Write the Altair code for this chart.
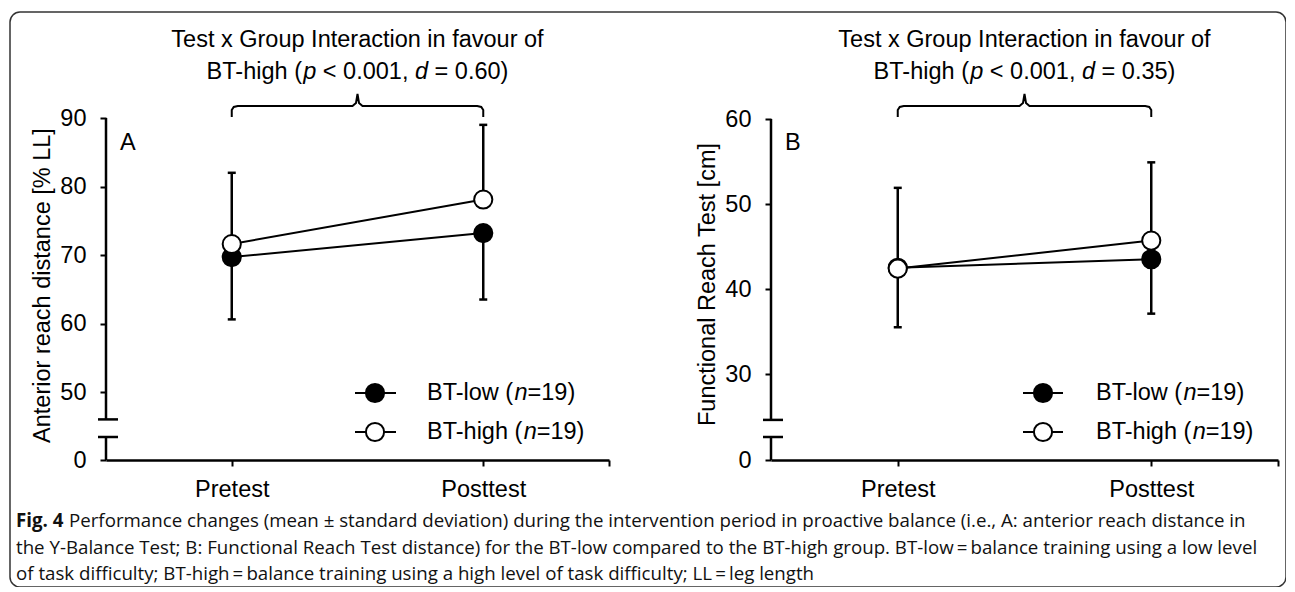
import altair as alt
import pandas as pd

# ---------------- data ----------------
tests = ["Pretest", "Posttest"]
groups = ["BT-low", "BT-high"]
group_n = ["19", "19"]

# Panel A: anterior reach distance [% LL]
a_low_mean = [69.7, 73.2]
a_low_sd = [9.1, 9.7]
a_high_mean = [71.6, 78.1]
a_high_sd = [10.4, 10.9]
a_ticks = [0, 50, 60, 70, 80, 90]
a_title = "Anterior reach distance [% LL]"
a_d = "0.60"

# Panel B: Functional Reach Test [cm]
b_low_mean = [42.5, 43.5]
b_low_sd = [7.0, 6.4]
b_high_mean = [42.4, 45.7]
b_high_sd = [9.5, 9.2]
b_ticks = [0, 30, 40, 50, 60]
b_title = "Functional Reach Test [cm]"
b_d = "0.35"

interaction_line1 = "Test x Group Interaction in favour of"
p_value_text = "< 0.001"

caption_bold = "Fig. 4"
caption_line1 = ("Performance changes (mean \u00b1 standard deviation) during the intervention period "
                 "in proactive balance (i.e., A: anterior reach distance in")
caption_line2 = ("the Y-Balance Test; B: Functional Reach Test distance) for the BT-low compared to the "
                 "BT-high group. BT-low\u2009=\u2009balance training using a low level")
caption_line3 = ("of task difficulty; BT-high\u2009=\u2009balance training using a high level of task difficulty; "
                 "LL\u2009=\u2009leg length")

# ---------------- layout / style ----------------
W, H = 1276, 575
FONT = "Liberation Sans"
FS = 23.5
CAP_FONT = "Open Sans"
CAP_FS = 18.7
X_AXIS_Y = 448      # view y of the x axis (value 0)
LOW_BREAK_Y = 425   # view y of the lower break mark

ARIAL = {' ': 278, '(': 333, ')': 333, '-': 333, '.': 278, ',': 278, '<': 584, '=': 584,
         'B': 667, 'T': 611, 'h': 556, 'i': 222, 'g': 556, 'p': 556, 'd': 556, 'l': 222,
         'o': 556, 'w': 722, 'n': 556}


def tw(s, fs=FS):
    return sum(ARIAL.get(c, 556) for c in s) / 1000.0 * fs


def layout_pieces(pieces, fs=FS):
    out, cum = [], 0.0
    for text, ital in pieces:
        lead = len(text) - len(text.lstrip(' '))
        out.append((text.strip(' '), ital, cum + tw(' ' * lead, fs)))
        cum += tw(text, fs)
    return out, cum


panels = [
    dict(letter="A", low=a_low_mean, low_sd=a_low_sd, high=a_high_mean, high_sd=a_high_sd,
         ticks=a_ticks, title=a_title, d=a_d, x0=96, x1=599, ytop=106, ppu=6.85, top=90,
         brk_hi=46, brk_lo=10, title_y=273, letter_x=110, leg_line=(345, 386), leg_mark=365,
         leg_text=417),
    dict(letter="B", low=b_low_mean, low_sd=b_low_sd, high=b_high_mean, high_sd=b_high_sd,
         ticks=b_ticks, title=b_title, d=b_d, x0=761, x1=1268, ytop=107, ppu=8.5, top=60,
         brk_hi=24.6, brk_lo=10, title_y=272, letter_x=775, leg_line=(1013, 1053), leg_mark=1033,
         leg_text=1086),
]

fill_scale = alt.Scale(domain=groups, range=["black", "white"])
label_expr = " : ".join(f"datum.value == {i + 1} ? '{t}'" for i, t in enumerate(tests)) + " : ''"


def panel_layer(p):
    x0, x1 = p["x0"], p["x1"]
    pxu = (x1 - x0) / 2.0
    top, ytop, ppu = p["top"], p["ytop"], p["ppu"]

    def yv(view_y):  # view pixel -> data value in upper segment (extrapolated)
        return top + (ytop - view_y) / ppu

    def xv(dpx, base=0.5):
        return base + dpx / pxu

    ys = alt.Scale(domain=[0, p["brk_lo"], p["brk_hi"], top],
                   range=[X_AXIS_Y, LOW_BREAK_Y, ytop + (top - p["brk_hi"]) * ppu, ytop],
                   nice=False, zero=False)
    xs = alt.Scale(domain=[0.5, 2.5], range=[x0, x1], nice=False, zero=False)
    x_axis = alt.Axis(orient="bottom", offset=-(H - X_AXIS_Y), values=[1, 2, 2.5],
                      labelExpr=label_expr, title=None, grid=False, domainColor="black",
                      domainWidth=2.5, tickColor="black", tickWidth=2, tickSize=6,
                      labelFont=FONT, labelFontSize=FS, labelColor="black", labelPadding=11,
                      labelFlush=False, labelOverlap=False)
    y_axis = alt.Axis(orient="left", offset=-x0, values=p["ticks"], domain=False,
                      title=p["title"], titleX=-64, titleY=p["title_y"], titleAngle=270,
                      titleAlign="center", titleBaseline="middle", titleFont=FONT,
                      titleFontSize=FS, titleFontWeight="normal", titleColor="black",
                      grid=False, tickColor="black", tickWidth=2, tickSize=6, labelFont=FONT,
                      labelFontSize=FS, labelColor="black", labelPadding=14, labelFlush=False,
                      labelOverlap=False)

    def X(f):
        return alt.X(f, scale=xs, axis=x_axis)

    def Y(f):
        return alt.Y(f, scale=ys, axis=y_axis)

    rows = []
    for gi, (g, means, sds) in enumerate([(groups[0], p["low"], p["low_sd"]),
                                          (groups[1], p["high"], p["high_sd"])]):
        for ti, t in enumerate(tests):
            m, s = means[ti], sds[ti]
            if gi == 0:
                lo, hi, cap = m - s, m, m - s
            else:
                lo, hi, cap = m, m + s, m + s
            rows.append(dict(x=ti + 1, test=t, group=g, mean=m, lo=lo, hi=hi, cap=cap, z=gi))
    df = pd.DataFrame(rows)

    df_ax = pd.DataFrame({"x": [0.5, 0.5], "y": [p["brk_hi"], 0], "y2": [top, p["brk_lo"]]})
    df_br = pd.DataFrame({"x": [xv(-8), xv(-8)], "x2": [xv(12), xv(12)],
                          "y": [p["brk_hi"], p["brk_lo"]]})

    bx = [1, 1, xv(2, 1), xv(6, 1), xv(-5, 1.5), xv(-1.5, 1.5), 1.5, xv(1.5, 1.5), xv(5, 1.5),
          xv(-6, 2), xv(-2, 2), 2, 2]
    by = [yv(105), yv(98), yv(95), yv(94), yv(94), yv(91), yv(82), yv(91), yv(94), yv(94),
          yv(95), yv(98), yv(105)]
    df_bk = pd.DataFrame({"x": bx, "y": by, "i": list(range(len(bx)))})

    df_letter = pd.DataFrame({"x": [xv(p["letter_x"] - x0)], "y": [yv(131)], "t": [p["letter"]]})
    df_t1 = pd.DataFrame({"x": [1.5], "y": [yv(35)], "t": [interaction_line1]})
    pieces, total = layout_pieces([("BT-high (", False), ("p", True),
                                   (" " + p_value_text + ", ", False), ("d", True),
                                   (" = " + p["d"] + ")", False)])
    df_t2 = pd.DataFrame([dict(x=xv(off - total / 2.0, 1.5), y=yv(67), t=txt, ital=it)
                          for txt, it, off in pieces])

    base = alt.Chart(df)
    layers = [
        alt.Chart(df_ax).mark_rule(color="black", strokeWidth=2.5).encode(
            x=X("x:Q"), y=Y("y:Q"), y2="y2:Q"),
        alt.Chart(df_br).mark_rule(color="black", strokeWidth=2.5).encode(
            x=X("x:Q"), x2="x2:Q", y=Y("y:Q")),
        base.mark_rule(color="black", strokeWidth=2.5).encode(x=X("x:Q"), y=Y("lo:Q"), y2="hi:Q"),
        base.mark_tick(orient="horizontal", size=8, thickness=2.5, color="black",
                       opacity=1).encode(x=X("x:Q"), y=Y("cap:Q")),
        base.mark_line(color="black", strokeWidth=2).encode(x=X("x:Q"), y=Y("mean:Q"),
                                                            detail="group:N"),
        base.mark_circle(size=330, stroke="black", strokeWidth=2, opacity=1).encode(
            x=X("x:Q"), y=Y("mean:Q"),
            fill=alt.Fill("group:N", scale=fill_scale, legend=None),
            order=alt.Order("z:Q")),
        alt.Chart(df_bk).mark_line(color="black", strokeWidth=2).encode(
            x=X("x:Q"), y=Y("y:Q"), order="i:Q"),
        alt.Chart(df_letter).mark_text(align="left", baseline="middle", font=FONT, fontSize=FS,
                                       color="black").encode(x=X("x:Q"), y=Y("y:Q"), text="t:N"),
        alt.Chart(df_t1).mark_text(align="center", baseline="alphabetic", font=FONT, fontSize=FS,
                                   color="black").encode(x=X("x:Q"), y=Y("y:Q"), text="t:N"),
        alt.Chart(df_t2[~df_t2.ital]).mark_text(align="left", baseline="alphabetic", font=FONT,
                                                fontSize=FS, color="black").encode(
            x=X("x:Q"), y=Y("y:Q"), text="t:N"),
        alt.Chart(df_t2[df_t2.ital]).mark_text(align="left", baseline="alphabetic", font=FONT,
                                               fontSize=FS, fontStyle="italic",
                                               color="black").encode(
            x=X("x:Q"), y=Y("y:Q"), text="t:N"),
    ]
    return alt.layer(*layers)


def legend_layer(p):
    df = pd.DataFrame({"group": groups, "n": group_n})
    ysc = alt.Scale(type="point", domain=groups, range=[381, 420], padding=0)
    Yl = alt.Y("group:N", scale=ysc, axis=None)
    lx0, lx1 = p["leg_line"]
    layers = [
        alt.Chart(df).mark_rule(color="black", strokeWidth=2).encode(
            x=alt.value(lx0), x2=alt.value(lx1), y=Yl),
        alt.Chart(df).mark_circle(size=330, stroke="black", strokeWidth=2, opacity=1).encode(
            x=alt.value(p["leg_mark"]), y=Yl,
            fill=alt.Fill("group:N", scale=fill_scale, legend=None)),
    ]
    for gi, g in enumerate(groups):
        pieces, _ = layout_pieces([(g + " (", False), ("n", True), ("=" + group_n[gi] + ")", False)])
        for txt, it, off in pieces:
            dfr = pd.DataFrame({"group": [g], "t": [txt]})
            layers.append(alt.Chart(dfr).mark_text(
                align="left", baseline="middle", font=FONT, fontSize=FS, color="black",
                fontStyle="italic" if it else "normal").encode(
                x=alt.value(p["leg_text"] + off), y=Yl, text="t:N"))
    return alt.layer(*layers)


def caption_layer():
    df = pd.DataFrame({"line": [0, 1, 2], "t": [caption_line1, caption_line2, caption_line3],
                       "xo": [59, 6, 6]})
    dfb = pd.DataFrame({"line": [0], "t": [caption_bold]})
    ysc = alt.Scale(type="point", domain=[0, 1, 2], range=[509, 562], padding=0)
    Yc = alt.Y("line:O", scale=ysc, axis=None)
    bold = alt.Chart(dfb).mark_text(align="left", baseline="middle", font=CAP_FONT,
                                    fontSize=CAP_FS, fontWeight="bold", color="#111").encode(
        x=alt.value(6), y=Yc, text="t:N")
    rest = alt.Chart(df).mark_text(align="left", baseline="middle", font=CAP_FONT,
                                   fontSize=CAP_FS, color="#111").encode(
        x=alt.X("xo:Q", scale=alt.Scale(domain=[0, W], range=[0, W]), axis=None),
        y=Yc, text="t:N")
    return alt.layer(bold, rest)


chart = alt.layer(
    panel_layer(panels[0]), panel_layer(panels[1]),
    legend_layer(panels[0]), legend_layer(panels[1]),
    caption_layer(),
).resolve_scale(x="independent", y="independent").properties(
    width=W, height=H,
    padding={"left": 2, "top": 4, "right": 0, "bottom": 0},
    autosize=alt.AutoSizeParams(type="none"),
).configure_view(stroke="#333", strokeWidth=1.5, cornerRadius=10)

chart.save("out.html", embed_options={"renderer": "svg", "actions": False})
